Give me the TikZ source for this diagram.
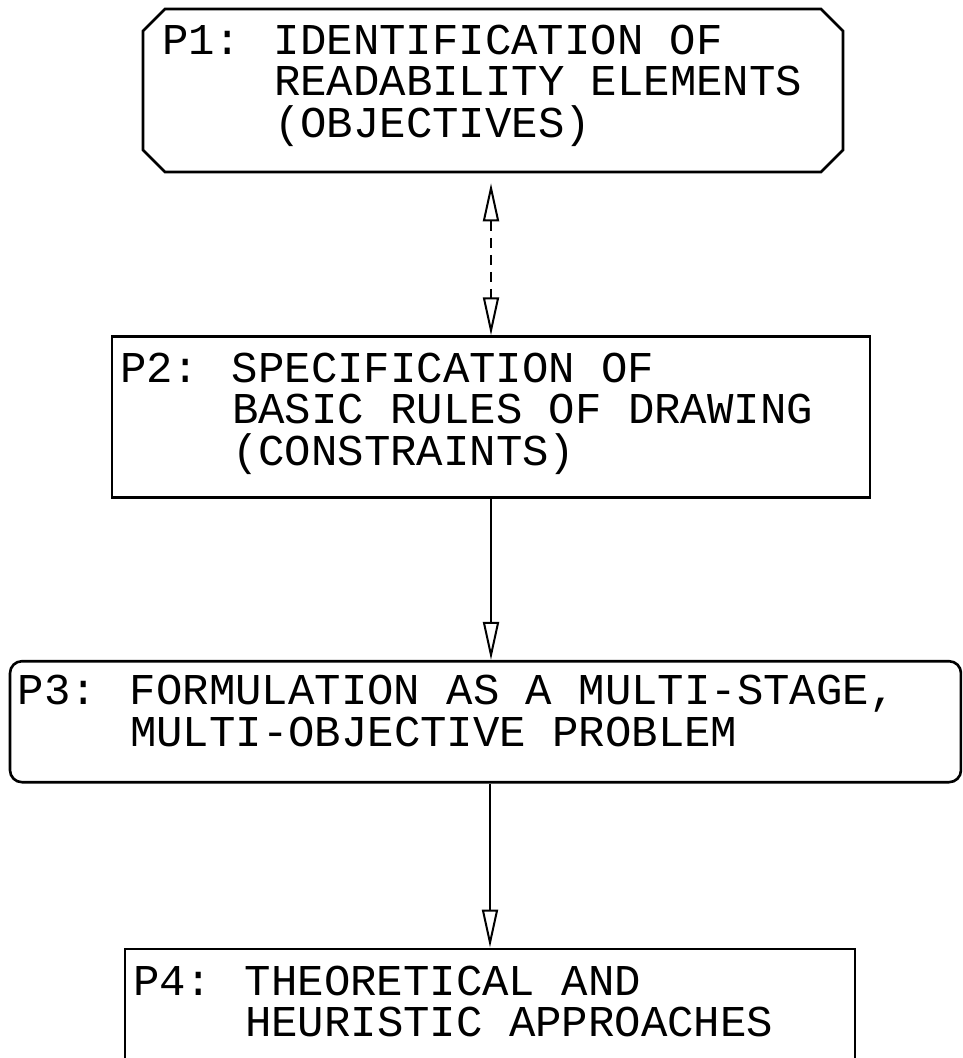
\documentclass[tikz,border=0pt]{standalone}
\usepackage{fontspec}
\setmonofont{Liberation Mono}
\usetikzlibrary{positioning,arrows.meta,shapes.misc}

\newcommand{\lbl}[1]{\makebox[56pt][l]{#1}}
\newcommand{\ind}{\hspace*{56pt}}
\newcommand{\stepbody}[4]{\parbox[c][#2][t]{#1}{\lineskiplimit=-20pt\raggedright\leftskip=4pt\vspace*{#3}#4}}

\begin{document}
\begin{tikzpicture}[x=0.5pt,y=-0.5pt,
	every node/.style={font=\ttfamily\fontsize{22}{20.75}\selectfont},
	stepbox/.style={rectangle,draw,line width=1.3pt,inner sep=0pt},
	cutbox/.style={chamfered rectangle,draw,line width=1.3pt,inner sep=0pt,
		chamfered rectangle xsep=5.5pt,chamfered rectangle ysep=5.5pt},
	roundbox/.style={rectangle,rounded corners=6pt,draw,line width=1.3pt,inner sep=0pt},
	flow/.style={line width=1pt,-{Triangle[open,length=19pt,width=8pt]}},
	dflow/.style={line width=1pt,dash pattern=on 5pt off 3.5pt,
		{Triangle[open,length=19pt,width=8pt]}-{Triangle[open,length=19pt,width=8pt]}}]

	\useasboundingbox (0,0) rectangle (962,1058);
	\clip (0,0) rectangle (962,1058);

	\node[cutbox] (p1) at (493,90.5)
		{\stepbody{339pt}{70.5pt}{2.5pt}{\lbl{P1:}IDENTIFICATION OF\\ \ind READABILITY ELEMENTS\\ \ind(OBJECTIVES)}};
	\node[stepbox,below=81pt of p1,xshift=-1pt] (p2)
		{\stepbody{379pt}{80.5pt}{8pt}{\lbl{P2:}SPECIFICATION OF\\ \ind BASIC RULES OF DRAWING\\ \ind(CONSTRAINTS)}};
	\node[roundbox,below=80.5pt of p2,xshift=-2.75pt] (p3)
		{\stepbody{475.5pt}{60.5pt}{7pt}{\lbl{P3:}FORMULATION AS A MULTI-STAGE,\\ \ind MULTI-OBJECTIVE PROBLEM}};
	\node[stepbox,below=82pt of p3,xshift=2.25pt] (p4)
		{\stepbody{365pt}{80pt}{8.5pt}{\lbl{P4:}THEORETICAL AND\\ \ind HEURISTIC APPROACHES}};

	\draw[dflow,shorten <=5pt] (p2.north |- p1.south) -- (p2.north);
	\draw[flow] (p2.south) -- (p2.south |- p3.north);
	\draw[flow] (p4.north |- p3.south) -- (p4.north);
\end{tikzpicture}
\end{document}
